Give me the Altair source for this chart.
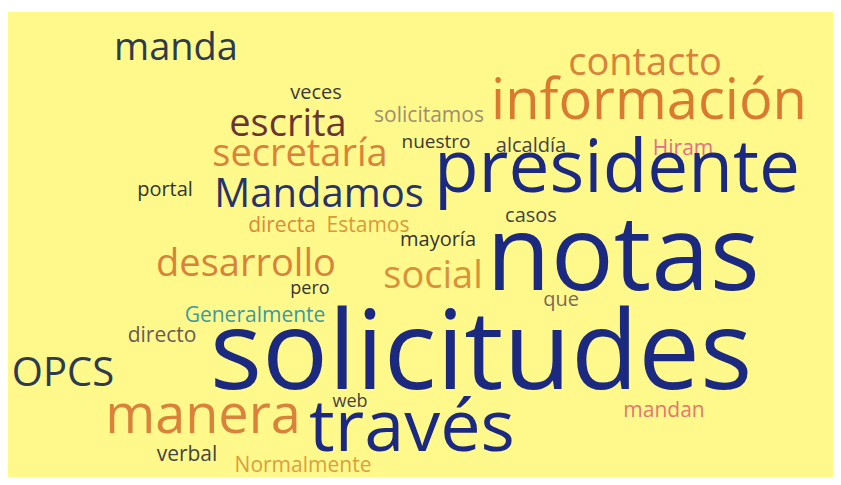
import altair as alt
import pandas as pd

# Word cloud content (words and their rendered weights)
words = ["manda", "veces", "escrita", "secretaría", "portal", "Mandamos", "directa",
         "Estamos", "contacto", "información", "solicitamos", "nuestro", "alcaldía",
         "•", "Hiram", "presidente", "casos", "mayoría", "notas", "desarrollo",
         "social", "pero", "Generalmente", "directo", "OPCS", "solicitudes",
         "manera", "web", "través", "que", "mandan", "verbal", "Normalmente"]
weights = [38, 20, 38, 38, 20, 40, 21,
           21, 38, 56, 21, 19, 20,
           20, 21, 73, 20, 20, 105, 38,
           38, 18, 21, 21, 40, 110,
           54, 18, 72, 20, 21, 21, 21]

# Layout of the cloud (page pixel coordinates: centre x, baseline y)
pos_x = [176, 316, 288, 300, 165, 319, 282,
         368, 645, 649, 429, 436, 531,
         592, 683, 617, 531, 438, 623, 246,
         433, 310, 255, 162, 63, 481,
         203, 350, 412, 561, 664, 187, 303]
pos_y = [60, 99, 136, 166, 196, 207, 232,
         232, 75, 119, 122, 148, 152,
         152, 155, 192, 222, 246, 290, 276,
         288, 294, 322, 342, 386, 389,
         433, 407, 451, 306, 417, 461, 472]
colors = ["#2e3b4e", "#3a3a3a", "#6a3535", "#d9823b", "#333333", "#27336a", "#d98a3a",
          "#d99a3a", "#d9823b", "#d97a30", "#9e8e6e", "#3a3a3a", "#444444",
          "#333333", "#e0708a", "#1b2a80", "#444444", "#333333", "#1b2a80", "#d9823b",
          "#d9923b", "#333333", "#3a9aa0", "#6b5a5a", "#2e3b4e", "#1b2a80",
          "#d9823b", "#444444", "#1b2a80", "#7a6a5a", "#e07a70", "#444444", "#d9a040"]

df = pd.DataFrame({"word": words, "weight": weights, "x": pos_x, "y": pos_y, "color": colors})

chart = alt.Chart(df).mark_text(
    align="center", baseline="alphabetic", font="Open Sans"
).encode(
    x=alt.X("x:Q", scale=alt.Scale(domain=[8, 833]), axis=None),
    y=alt.Y("y:Q", scale=alt.Scale(domain=[12, 477], reverse=True), axis=None),
    text="word:N",
    size=alt.Size("weight:Q", scale=None, legend=None),
    color=alt.Color("color:N", scale=None, legend=None),
).properties(
    width=825, height=469,
    autosize=alt.AutoSizeParams(type="fit", contains="padding"),
    padding={"top": 4, "left": 0, "right": 0, "bottom": 0},
    background="white",
).configure_view(fill="#fff98b", strokeWidth=0)

chart.save("out.html", embed_options={"renderer": "svg", "actions": False})
